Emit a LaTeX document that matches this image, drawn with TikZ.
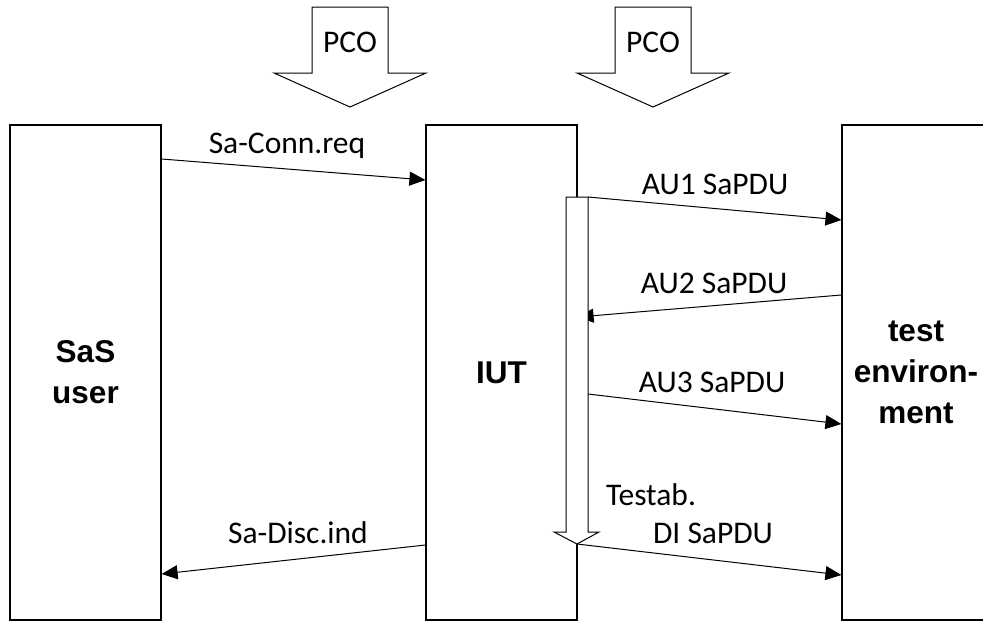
\documentclass[tikz,border=0pt]{standalone}
\usepackage{fontspec}
\setmainfont{Carlito}
\newfontfamily\labfont{Liberation Sans}
\usetikzlibrary{arrows.meta}
\begin{document}
\begin{tikzpicture}[x=1pt,y=-1pt,
  box/.style={draw, line width=1.2pt, inner sep=0pt, minimum width=151pt, minimum height=495pt, align=center,
    font=\labfont\bfseries\fontsize{31.5}{41}\selectfont},
  msg/.style={-{Triangle[length=16pt,width=14pt]}, line width=1pt},
  lab/.style={anchor=base, inner sep=0pt, font=\fontsize{31.5}{38}\selectfont},
  blockarrow/.style={draw, fill=white, line width=1pt, line join=miter}]
\clip (0,0) rectangle (983,621);
\fill[white] (0,0) rectangle (983,621);
% boxes
\node[box] (sas) at (85.5,372.5) {SaS\\user};
\node[box] (iut) at (501.5,372.5) {IUT};
\node[box, minimum width=148pt] (env) at (916,372.5) {test\\environ-\\ment};
% timer bar coordinates
\coordinate (bartl) at (566,197);
\coordinate (bartr) at (588,197);
\coordinate (bartip) at (577,544);
% messages
\draw[msg] (sas.east |- 0,159) -- (iut.west |- 0,180);
\draw[msg] (bartr) -- (env.west |- 0,220);
\draw[msg] (env.west |- 0,295) -- (iut.east |- 0,317);
\draw[msg] (bartr |- 0,394) -- (env.west |- 0,424);
\draw[msg] (bartip) -- (env.west |- 0,575);
\draw[msg] (iut.west |- 0,545) -- (sas.east |- 0,574);
% timer bar
\draw[blockarrow] (bartl) -- (bartr) -- (588,532) -- (599,532) -- (bartip) -- (554,532) -- (566,532) -- cycle;
% PCO arrows
\draw[blockarrow] (312,7) -- (388,7) -- (388,73) -- (426,73) -- (350,107) -- (274,73) -- (312,73) -- cycle;
\draw[blockarrow] (615,7) -- (691,7) -- (691,73) -- (729,73) -- (653,107) -- (577,73) -- (615,73) -- cycle;
\node[lab] (pco1) at (350,52) {PCO};
\node[lab] (pco2) at (653,52) {PCO};
% labels
\node[lab] (l1) at (287,153) {Sa-Conn.req};
\node[lab] (l2) at (715,194) {AU1 SaPDU};
\node[lab] (l3) at (714,293) {AU2 SaPDU};
\node[lab] (l4) at (712,392) {AU3 SaPDU};
\node[lab] (l5) at (651,505) {Testab.};
\node[lab] (l6) at (713,543) {DI SaPDU};
\node[lab] (l7) at (298,543) {Sa-Disc.ind};
\end{tikzpicture}
\end{document}
